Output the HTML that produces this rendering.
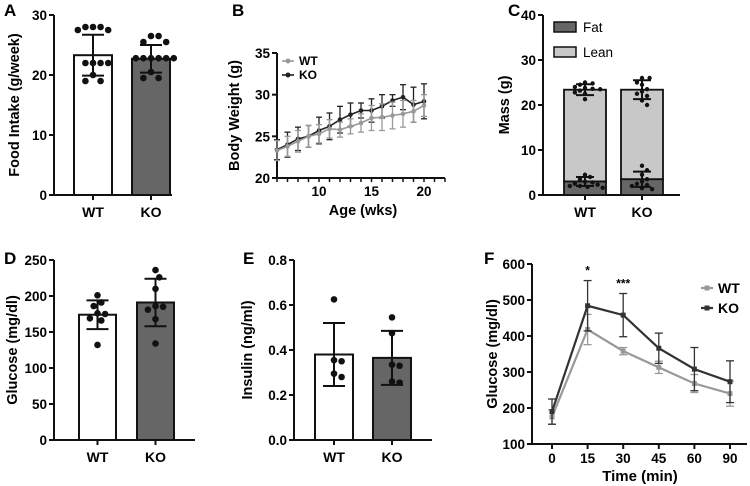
<!DOCTYPE html>
<html><head><meta charset="utf-8">
<style>
body{margin:0;background:#fff;}
svg{display:block;font-family:"Liberation Sans",Arial,sans-serif;font-weight:bold;}
</style></head>
<body>
<svg id="fig" width="750" height="486" viewBox="0 0 750 486"></svg>
<script>
// ---- Data ----
const groups = ["WT","KO"];
// A: food intake
const foodMeans = [23.3, 22.7];
const foodSD = [3.4, 2.3];
const foodWT = [28,28,28,27.5,27.5,22,22,22,22,20,19,19];
const foodKO = [26.5,26.5,25.5,25.5,22.8,22.8,22.8,22.8,22.8,22.8,20.5,19.5,19.5];
// B: body weight
const weeks = [6,7,8,9,10,11,12,13,14,15,16,17,18,19,20];
const bwWT = [23.3,23.8,24.4,25.0,25.3,25.9,25.8,26.2,26.6,27.2,27.3,27.5,27.7,28.0,28.7];
const bwWTsd = [1.2,1.2,1.3,1.3,1.1,1.1,0.9,0.9,1.1,1.5,1.6,1.6,1.6,1.3,1.3];
const bwKO = [23.4,24.0,24.7,25.0,25.7,26.2,27.0,27.6,28.1,28.1,28.6,29.3,29.7,28.8,29.2];
const bwKOsd = [1.2,1.5,1.4,1.3,1.6,1.6,1.6,1.4,0.9,1.4,1.4,0.7,1.5,2.1,2.1];
// C: body composition
const fatMeans = [3.0, 3.5];
const fatSD = [1.0, 1.7];
const leanTotals = [23.4, 23.4];
const totalSD = [1.2, 2.1];
const fatWT = [4.5,4.0,3.5,3.0,2.8,2.5,2.3,2.0,2.0,1.8,1.6];
const fatKO = [6.5,5.5,4.5,3.5,3.0,2.5,2.2,2.0,1.5,1.3];
const totWT = [25,24.8,24.5,24,23.8,23.6,23.5,23.2,22.8,22.5,21.3];
const totKO = [26,26,25,24.5,23.5,23,22.5,22,21,20];
// D: glucose
const gluMeans = [174, 191];
const gluSD = [20, 33];
const gluWT = [201,191,186,176,175,169,166,132];
const gluKO = [236,226,210,186,185,181,168,134];
// E: insulin
const insMeans = [0.38, 0.365];
const insSD = [0.14, 0.12];
const insWT = [0.625,0.355,0.35,0.295,0.28];
const insKO = [0.545,0.475,0.335,0.33,0.26,0.255];
// F: GTT
const times = ["0","15","30","45","60","90"];
const gttWT = [175,418,358,313,268,240];
const gttWTsd = [20,42,10,17,25,35];
const gttKO = [190,484,458,366,308,273];
const gttKOsd = [35,70,60,42,60,58];
const sig = ["","*","***","","",""];

const NS="http://www.w3.org/2000/svg";
const svg=document.getElementById('fig');
function el(tag,attrs,parent,text){
  const e=document.createElementNS(NS,tag);
  for(const k in attrs)e.setAttribute(k,attrs[k]);
  if(text!==undefined)e.textContent=text;
  (parent||svg).appendChild(e);return e;
}
function line(g,x1,y1,x2,y2,c,w){return el('line',{x1,y1,x2,y2,stroke:c||'#111','stroke-width':w||2},g);}
function letter(x,y,t){const e=el('text',{x,y,'font-size':17},svg,t);

}
function yAxis(g,ax,y0,y1,vmin,vmax,ticks,fmt,title,tx,xend){
  const sc=v=>y0-(v-vmin)/(vmax-vmin)*(y0-y1);
  const a=line(g,ax,y1,ax,y0+1);
  
  
  ticks.forEach(t=>{const y=sc(t);line(g,ax-5,y,ax,y);
    const e=el('text',{x:ax-7,y:y+5,'font-size':13.5,'text-anchor':'end'},g,fmt?fmt(t):t);
    
    });
  const xa=line(g,ax-1,y0,xend,y0);
  
  
  const ty=(y0+y1)/2;
  const tt=el('text',{x:tx,y:ty,'font-size':14.5,'text-anchor':'middle',transform:`rotate(-90 ${tx} ${ty})`},g,title);
  
  
  return sc;
}
function dots(g,cx,vals,sc,r){
  const placed=[];
  const step=r*2.3;
  vals.forEach(v=>{
    const y=sc(v);let x=cx;
    for(let k=0;k<40;k++){
      const off=(k%2?1:-1)*Math.ceil(k/2)*step*0.5;
      const tx=cx+off;
      if(placed.every(p=>Math.hypot(p[0]-tx,p[1]-y)>=2*r+0.8)){x=tx;break;}
    }
    placed.push([x,y]);
    const d=el('circle',{cx:x,cy:y,r:r,fill:'#111'},g);
    
    });
}
function errBar(g,cx,ym,ylo,yhi,hw,c,w){line(g,cx,ylo,cx,yhi,c,w);line(g,cx-hw,yhi,cx+hw,yhi,c,w);if(ylo!==null)line(g,cx-hw,ylo,cx+hw,ylo,c,w);}
function barPanel(name,ax,y0,y1,vmin,vmax,ticks,fmt,title,tx,xend,bx,bw,means,sds,pts,r,labY){
  const g=el('g',{});
  
  
  const sc=yAxis(g,ax,y0,y1,vmin,vmax,ticks,fmt,title,tx,xend);
  groups.forEach((gr,i)=>{
    const x=bx[i];
    const b=el('rect',{x:x,y:sc(means[i]),width:bw,height:y0-sc(means[i]),fill:i?'#666':'#fff',stroke:'#111','stroke-width':2},g);
    
    
    const cx=x+bw/2;
    line(g,cx,y0,cx,y0+5);
    dots(g,cx,pts[i],sc,r);
    errBar(g,cx,sc(means[i]),sc(means[i]-sds[i]),sc(means[i]+sds[i]),11,'#111',2);
    const l=el('text',{x:cx,y:labY,'font-size':14,'text-anchor':'middle'},g,gr);
    
    
  });
}
// A
letter(4,16,'A');
barPanel('food-intake-chart',54,195,15,0,30,[0,10,20,30],null,'Food Intake (g/week)',19,172,[74,132],38,foodMeans,foodSD,[foodWT,foodKO],3.3,217);
// D
letter(4,264,'D');
barPanel('glucose-bar-chart',54,440,260,0,250,[0,50,100,150,200,250],null,'Glucose (mg/dl)',17,195,[79,137],37,gluMeans,gluSD,[gluWT,gluKO],3.3,462);
// E
letter(243,264,'E');
barPanel('insulin-bar-chart',294,440,260,0,0.8,[0,0.2,0.4,0.6,0.8],v=>v.toFixed(1),'Insulin (ng/ml)',252,432,[315,373],38,insMeans,insSD,[insWT,insKO],3.3,462);

// B
letter(232,16,'B');
(function(){
  const g=el('g',{});
  
  
  const ax=277,y0=178,y1=53;
  const sc=yAxis(g,ax,y0,y1,20,35,[20,25,30,35],null,'Body Weight (g)',239,445);
  const sx=v=>ax+(v-6)*10.5;
  for(let w=6;w<=22;w++){line(g,sx(w),y0,sx(w),y0+4,'#111',1.5);}
  [10,15,20].forEach(t=>{const e=el('text',{x:sx(t),y:y0+18,'font-size':13.5,'text-anchor':'middle'},g,t);
    
    });
  const xt=el('text',{x:363,y:215,'font-size':14.5,'text-anchor':'middle'},g,'Age (wks)');
  
  
  [[bwKO,bwKOsd,'#222','ko'],[bwWT,bwWTsd,'#999','wt']].forEach(([m,s,c,n])=>{
    weeks.forEach((w,i)=>{errBar(g,sx(w),0,sc(m[i]-s[i]),sc(m[i]+s[i]),3,c,1.3);});
    const p=el('polyline',{points:weeks.map((w,i)=>sx(w)+','+sc(m[i])).join(' '),fill:'none',stroke:c,'stroke-width':1.6},g);
    
    
    weeks.forEach((w,i)=>{const d=el('circle',{cx:sx(w),cy:sc(m[i]),r:2.3,fill:c},g);
      
      });
  });
  [['WT','#999',61],['KO','#222',75]].forEach(([t,c,y])=>{
    line(g,282,y,294,y,c,1.6);el('circle',{cx:288,cy:y,r:2.5,fill:c},g);
    const e=el('text',{x:299,y:y+4,'font-size':12},g,t);
    
    
  });
})();

// C
letter(508,16,'C');
(function(){
  const g=el('g',{});
  
  
  const ax=543,y0=195,y1=15;
  const sc=yAxis(g,ax,y0,y1,0,40,[0,10,20,30,40],null,'Mass (g)',509,680);
  const bx=[564,621],bw=42;
  groups.forEach((gr,i)=>{
    const x=bx[i],cx=x+bw/2;
    const l=el('rect',{x:x,y:sc(leanTotals[i]),width:bw,height:sc(fatMeans[i])-sc(leanTotals[i]),fill:'#c8c8c8',stroke:'#111','stroke-width':1.8},g);
    
    
    const f=el('rect',{x:x,y:sc(fatMeans[i]),width:bw,height:y0-sc(fatMeans[i]),fill:'#666',stroke:'#111','stroke-width':1.8},g);
    
    
    line(g,cx,y0,cx,y0+5);
    dots(g,cx,[fatWT,fatKO][i],sc,2.2);
    dots(g,cx,[totWT,totKO][i],sc,2.2);
    errBar(g,cx,0,sc(fatMeans[i]-fatSD[i]),sc(fatMeans[i]+fatSD[i]),9,'#111',2);
    errBar(g,cx,0,sc(leanTotals[i]-totalSD[i]),sc(leanTotals[i]+totalSD[i]),9,'#111',2);
    const t=el('text',{x:cx,y:217,'font-size':14,'text-anchor':'middle'},g,gr);
    
    
  });
  [['Fat','#666',22],['Lean','#c8c8c8',47]].forEach(([t,c,y])=>{
    el('rect',{x:554,y:y,width:22,height:10,fill:c,stroke:'#111','stroke-width':1.5},g);
    const e=el('text',{x:583,y:y+10,'font-size':13.5,'font-weight':'normal'},g,t);
    
    
  });
})();

// F
letter(484,264,'F');
(function(){
  const g=el('g',{});
  
  
  const ax=532,y0=444,y1=264;
  const sc=yAxis(g,ax,y0,y1,100,600,[100,200,300,400,500,600],null,'Glucose (mg/dl)',497,747);
  const sx=i=>552+i*35.6;
  times.forEach((t,i)=>{line(g,sx(i),y0,sx(i),y0+5);
    const e=el('text',{x:sx(i),y:y0+19,'font-size':13.5,'text-anchor':'middle'},g,t);
    
    
    if(sig[i]){const s=el('text',{x:sx(i),y:sc(gttKO[i]+gttKOsd[i])-6,'font-size':12,'text-anchor':'middle'},g,sig[i]);
      
      }
  });
  const xt=el('text',{x:640,y:481,'font-size':15,'text-anchor':'middle'},g,'Time (min)');
  
  
  [[gttWT,gttWTsd,'#999','wt'],[gttKO,gttKOsd,'#333','ko']].forEach(([m,s,c,n])=>{
    times.forEach((t,i)=>{errBar(g,sx(i),0,sc(m[i]-s[i]),sc(m[i]+s[i]),4,c,1.3);});
    const p=el('polyline',{points:times.map((t,i)=>sx(i)+','+sc(m[i])).join(' '),fill:'none',stroke:c,'stroke-width':2.2},g);
    
    
    times.forEach((t,i)=>{const d=el('rect',{x:sx(i)-2.5,y:sc(m[i])-2.5,width:5,height:5,fill:c},g);
      
      });
  });
  [['WT','#999',288],['KO','#333',308]].forEach(([t,c,y])=>{
    line(g,701,y,713,y,c,2.2);el('rect',{x:704.5,y:y-2.5,width:5,height:5,fill:c},g);
    const e=el('text',{x:718,y:y+5,'font-size':14},g,t);
    
    
  });
})();
</script>
</body></html>
